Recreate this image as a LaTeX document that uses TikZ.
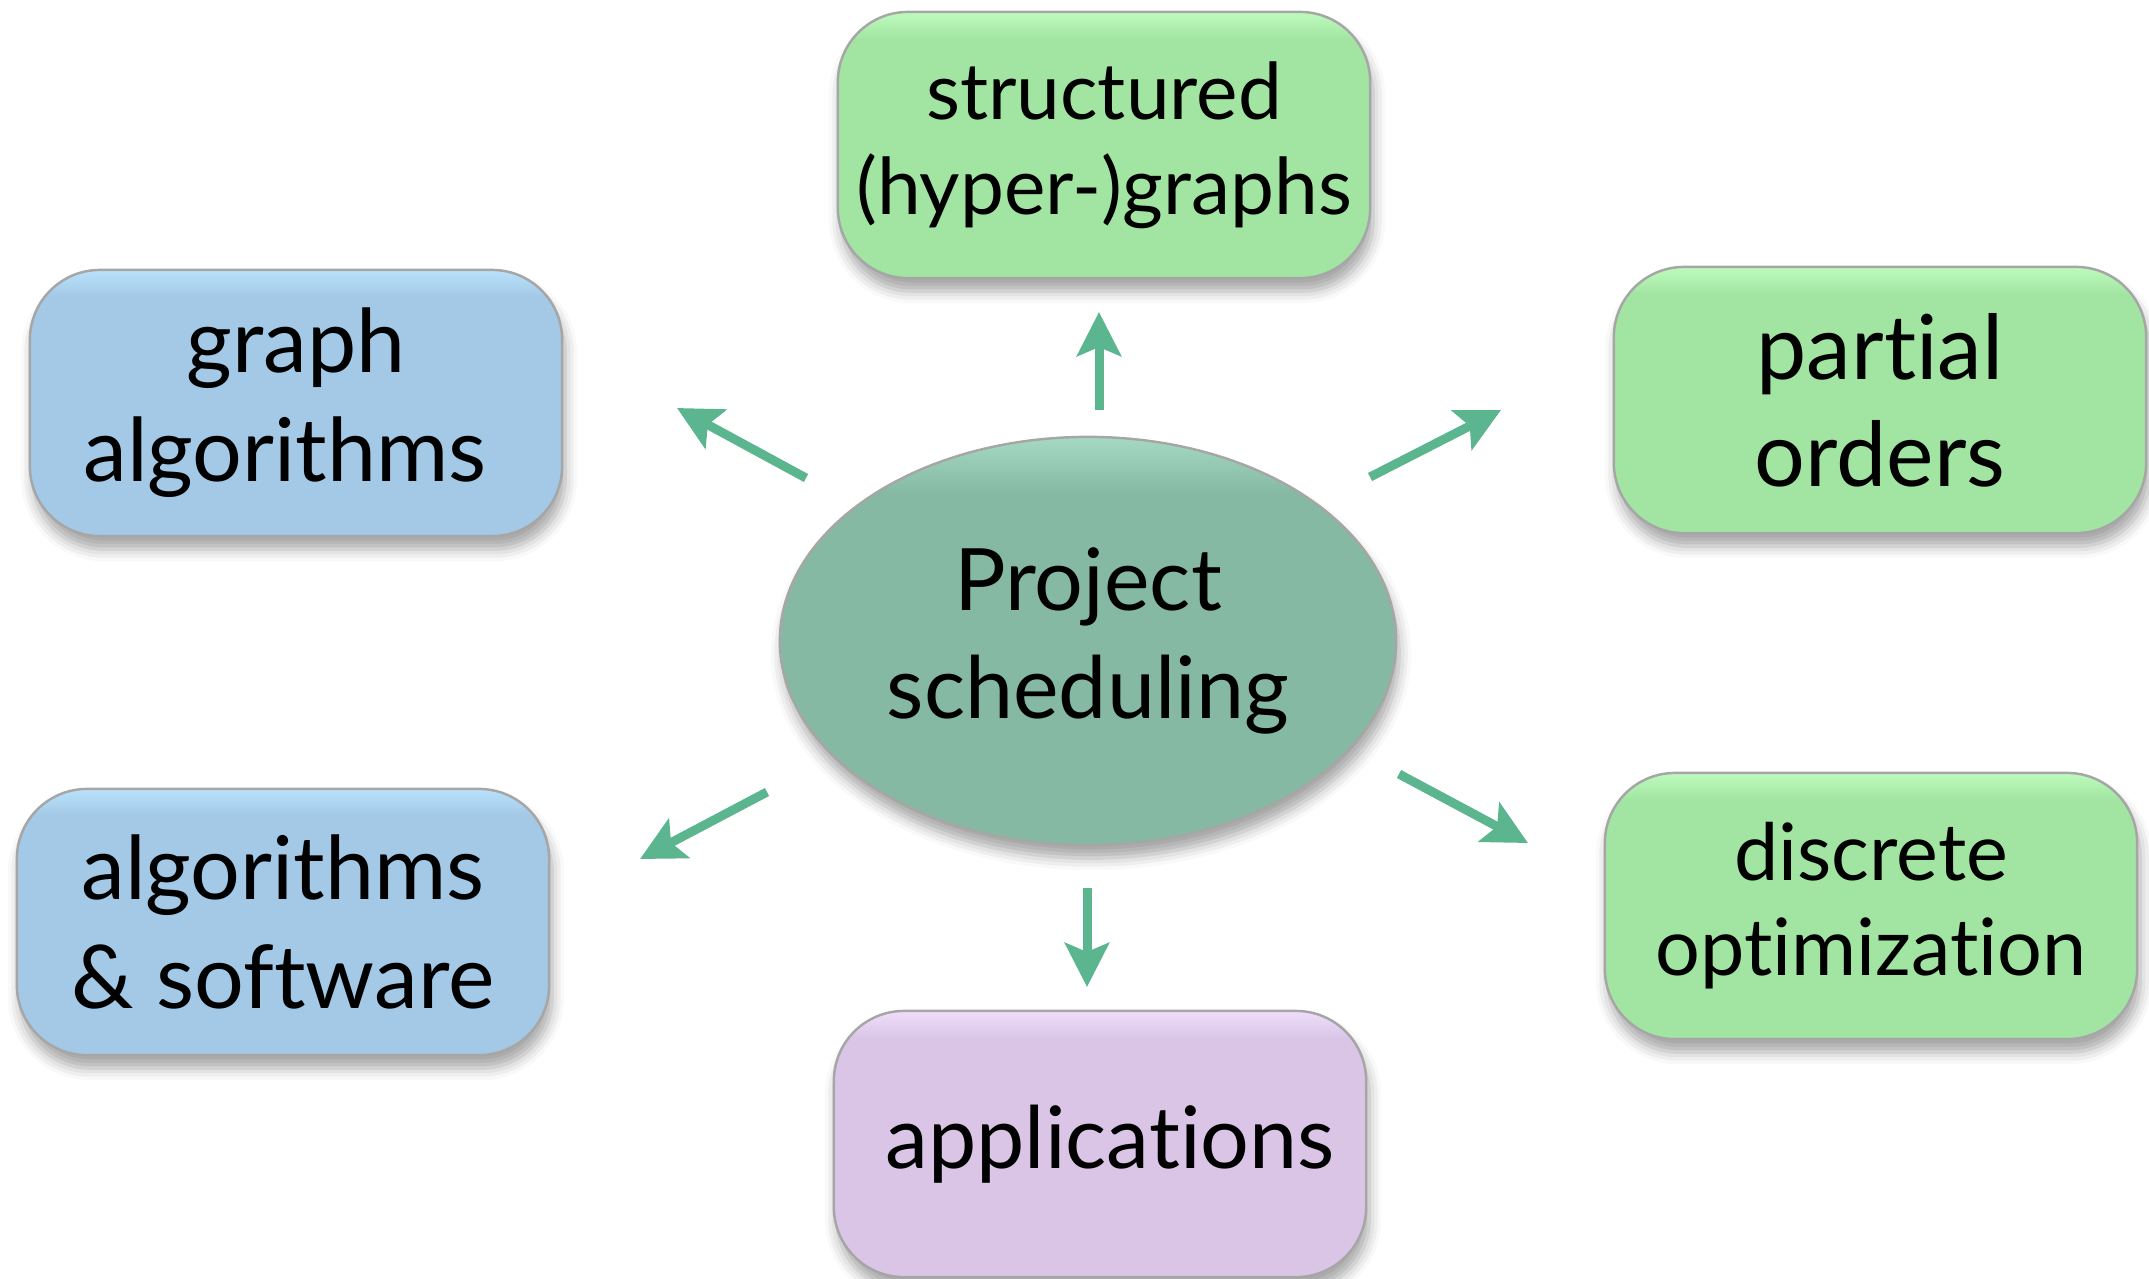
\documentclass[tikz,border=0pt]{standalone}
\usepackage{fontspec}
\setmainfont[Ligatures=NoCommon]{Lato}
\usetikzlibrary{arrows.meta,shapes.geometric,shadows.blur}

\definecolor{gbase}{HTML}{A2E5A2}
\definecolor{gtop}{HTML}{BDFBBD}
\definecolor{bbase}{HTML}{A3C9E6}
\definecolor{btop}{HTML}{BAE2FC}
\definecolor{pbase}{HTML}{DAC5E7}
\definecolor{ptop}{HTML}{EFDEFB}
\definecolor{ebase}{HTML}{86B9A4}
\definecolor{etop}{HTML}{A6D9C4}
\definecolor{edgegray}{HTML}{A6A6A6}
\definecolor{arrowgreen}{HTML}{5BB68F}

% vertical fills with a light rim along the top edge
\pgfdeclareverticalshading{greenfill}{100bp}{color(0bp)=(gbase); color(25bp)=(gbase); color(70bp)=(gbase); color(75bp)=(gtop); color(100bp)=(gtop)}
\pgfdeclareverticalshading{bluefill}{100bp}{color(0bp)=(bbase); color(25bp)=(bbase); color(70bp)=(bbase); color(75bp)=(btop); color(100bp)=(btop)}
\pgfdeclareverticalshading{purplefill}{100bp}{color(0bp)=(pbase); color(25bp)=(pbase); color(70bp)=(pbase); color(75bp)=(ptop); color(100bp)=(ptop)}
\pgfdeclareverticalshading{ellfill}{100bp}{color(0bp)=(ebase); color(25bp)=(ebase); color(68bp)=(ebase); color(75bp)=(etop); color(100bp)=(etop)}

\newcommand{\txtsize}[2]{\fontsize{#1}{#2}\selectfont}

\tikzset{
  topic/.style={rectangle, rounded corners=0.7cm, draw=edgegray, line width=0.7pt,
    minimum width=5.32cm, minimum height=2.66cm, inner sep=0pt, align=center,
    font=\txtsize{24pt}{30pt},
    blur shadow={shadow xshift=0.03cm, shadow yshift=-0.13cm, shadow blur radius=0.12cm, shadow opacity=35}},
  greentopic/.style={topic, shading=greenfill},
  bluetopic/.style={topic, shading=bluefill},
  purpletopic/.style={topic, shading=purplefill},
  hub/.style={ellipse, draw=edgegray, line width=0.7pt, shading=ellfill,
    minimum width=6.16cm, minimum height=4.08cm, inner sep=0pt, align=center,
    font=\txtsize{24.5pt}{30.5pt},
    blur shadow={shadow xshift=0.03cm, shadow yshift=-0.13cm, shadow blur radius=0.12cm, shadow opacity=35}},
  link/.style={draw=arrowgreen, line width=0.09cm,
    -{Stealth[length=0.44cm, width=0.44cm, inset=0.09cm]}}
}

\begin{document}
\begin{tikzpicture}[x=0.01cm, y=-0.01cm]
  \useasboundingbox (0,0) rectangle (2149,1278);

  % central topic
  \node[hub] (ps) at (1088,641) {Project\\scheduling};

  % surrounding topics
  \node[greentopic, font=\txtsize{22.3pt}{27pt}]  (hyper)   at (1104,145) {structured\\(hyper-)graphs};
  \node[bluetopic, font=\txtsize{25pt}{31pt}]     (galg)    at (296,403)  {graph\\algorithms\hspace*{0.22cm}};
  \node[greentopic, font=\txtsize{25.5pt}{30.5pt}] (porder) at (1880,400) {partial\\orders};
  \node[bluetopic, font=\txtsize{25pt}{31pt}]     (algsw)   at (283,922)  {algorithms\\\& software};
  \node[greentopic, font=\txtsize{22.5pt}{27pt}]  (discopt) at (1871,906) {discrete\\optimization};
  \node[purpletopic, font=\txtsize{24.5pt}{30pt}] (apps)    at (1100,1144) {\hspace*{0.2cm}applications};

  % arrow ends
  \coordinate (upA) at (1099,410);  \coordinate (upB) at (1099,312);
  \coordinate (ulA) at (806,478);   \coordinate (ulB) at (677,408);
  \coordinate (urA) at (1370,477);  \coordinate (urB) at (1501,410);
  \coordinate (llA) at (767,792);   \coordinate (llB) at (640,859);
  \coordinate (lrA) at (1399,774);  \coordinate (lrB) at (1528,843);
  \coordinate (dnA) at (1087,888);  \coordinate (dnB) at (1087,987);

  \draw[link] (upA) -- (upB);
  \draw[link] (ulA) -- (ulB);
  \draw[link] (urA) -- (urB);
  \draw[link] (llA) -- (llB);
  \draw[link] (lrA) -- (lrB);
  \draw[link] (dnA) -- (dnB);
\end{tikzpicture}
\end{document}
